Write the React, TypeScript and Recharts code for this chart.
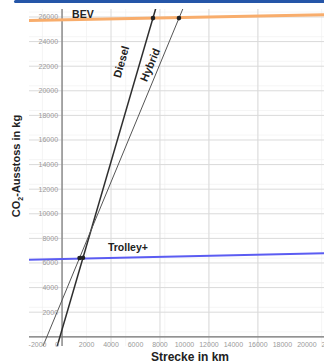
import React from 'react'
import {
  ComposedChart,
  Line,
  Scatter,
  XAxis,
  YAxis,
  CartesianGrid,
  ReferenceLine,
  ReferenceDot,
} from 'recharts'

const X_MIN = -2700
const X_MAX = 21400
const Y_MIN = -750
const Y_MAX = 26650

// lines (km -> kg CO2)
const bevKm = [-2700, 21400]
const bevKg = [25720, 26180]
const trolleyKm = [-2700, 21400]
const trolleyKg = [6260, 6800]
const dieselKm = [-800, 7800]
const dieselKg = [-2140, 27190]
const hybridKm = [-2200, 11000]
const hybridKg = [-2300, 29380]

// intersection markers
const crossKm = [7430, 9550, 1430, 1710]
const crossKg = [25910, 25910, 6400, 6420]

const xTicks = [-2000, 0, 2000, 4000, 6000, 8000, 10000, 12000, 14000, 16000, 18000, 20000, 22000]
const yTicks = [2000, 4000, 6000, 8000, 10000, 12000, 14000, 16000, 18000, 20000, 22000, 24000, 26000]

const lineNames = ['BEV', 'Trolley+', 'Diesel', 'Hybrid']
const nameKm = [820, 3750, 4820, 7180]
const nameKg = [26250, 7320, 22360, 22110]
const nameAngle = [0, 0, -74, -67]
const nameAnchor = ['start', 'start', 'middle', 'middle']

const pts = (xs: number[], ys: number[]) => xs.map((km, i) => ({ km, kg: ys[i] }))

const minorX: number[] = []
for (let v = -2400; v <= X_MAX; v += 400) minorX.push(v)
const minorY: number[] = []
for (let v = -400; v <= Y_MAX; v += 400) minorY.push(v)
const majorX = xTicks
const majorY = [0, ...yTicks]

const tickFont = { fontFamily: 'Liberation Sans, Arial, sans-serif', fontSize: 7, fill: '#9a9a9a' }
const bold = 'Liberation Sans, Arial, sans-serif'

export default function App() {
  return (
    <div style={{ position: 'absolute', left: 0, top: 0, width: 324, height: 363, background: '#fff', overflow: 'hidden' }}>
      <ComposedChart width={324} height={363} margin={{ top: 9, right: 0, left: 29, bottom: 17 }}>
        <XAxis type="number" dataKey="km" domain={[X_MIN, X_MAX]} allowDataOverflow hide />
        <YAxis type="number" dataKey="kg" domain={[Y_MIN, Y_MAX]} allowDataOverflow hide />
        <CartesianGrid verticalValues={minorX} horizontalValues={minorY} stroke="#f0f0f0" strokeWidth={0.7} />
        <CartesianGrid verticalValues={majorX} horizontalValues={majorY} stroke="#dadada" strokeWidth={1} fill="none" />
        <ReferenceLine x={0} stroke="#777" strokeWidth={1.2} />
        <ReferenceLine y={0} stroke="#777" strokeWidth={1.2} />
        {xTicks.map((v) => (
          <ReferenceDot
            key={'x' + v}
            x={v}
            y={0}
            ifOverflow="visible"
            shape={(p: any) => (
              <text x={p.cx + (v === 0 ? -5 : 0)} y={p.cy + 10} textAnchor="middle" {...tickFont}>
                {v}
              </text>
            )}
          />
        ))}
        {yTicks.map((v) => (
          <ReferenceDot
            key={'y' + v}
            x={0}
            y={v}
            ifOverflow="visible"
            shape={(p: any) => (
              <text x={p.cx - 4} y={p.cy + 2.5} textAnchor="end" {...tickFont}>
                {v}
              </text>
            )}
          />
        ))}
        <Line data={pts(bevKm, bevKg)} dataKey="kg" stroke="#f8ad6c" strokeWidth={3} dot={false} isAnimationActive={false} />
        <Line data={pts(trolleyKm, trolleyKg)} dataKey="kg" stroke="#5b5cf2" strokeWidth={2} dot={false} isAnimationActive={false} />
        <Line data={pts(dieselKm, dieselKg)} dataKey="kg" stroke="#2e2e2e" strokeWidth={1.5} dot={false} isAnimationActive={false} />
        <Line data={pts(hybridKm, hybridKg)} dataKey="kg" stroke="#555" strokeWidth={1} dot={false} isAnimationActive={false} />
        <Scatter
          data={pts(crossKm, crossKg)}
          dataKey="kg"
          isAnimationActive={false}
          shape={(p: any) => <circle cx={p.cx} cy={p.cy} r={2.3} fill="#222" />}
        />
        {lineNames.map((n, i) => (
          <ReferenceDot
            key={n}
            x={nameKm[i]}
            y={nameKg[i]}
            ifOverflow="visible"
            shape={(p: any) => (
              <text
                x={p.cx}
                y={p.cy}
                transform={`rotate(${nameAngle[i]} ${p.cx} ${p.cy})`}
                textAnchor={nameAnchor[i] as any}
                dominantBaseline="central"
                fontFamily={bold}
                fontWeight="bold"
                fontSize={i < 2 ? 10.5 : 11}
                fill="#222"
              >
                {n}
              </text>
            )}
          />
        ))}
      </ComposedChart>
      <div
        style={{
          position: 'absolute',
          left: 14,
          top: 0,
          width: 330,
          height: 3,
          background: '#2556a8',
          borderTopLeftRadius: 3,
          borderBottomLeftRadius: 3,
        }}
      />
      <div
        style={{
          position: 'absolute',
          left: 17,
          top: 166,
          transform: 'translate(-50%, -50%) rotate(-90deg)',
          whiteSpace: 'nowrap',
          fontFamily: bold,
          fontWeight: 'bold',
          fontSize: 11,
          color: '#222',
        }}
      >
        CO<sub style={{ fontSize: 7 }}>2</sub>-Ausstoss in kg
      </div>
      <div
        style={{
          position: 'absolute',
          left: 190,
          top: 357,
          transform: 'translate(-50%, -50%)',
          whiteSpace: 'nowrap',
          fontFamily: bold,
          fontWeight: 'bold',
          fontSize: 12,
          color: '#222',
        }}
      >
        Strecke in km
      </div>
    </div>
  )
}
